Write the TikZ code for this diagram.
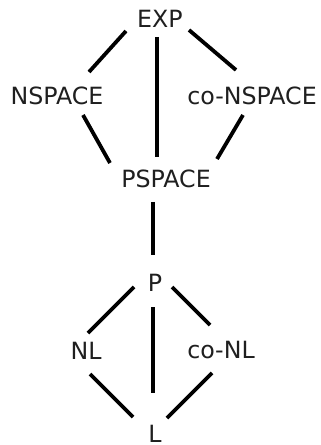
\documentclass[tikz,border=0pt]{standalone}
\usepackage{fontspec}
\setmainfont{DejaVu Sans}
\begin{document}
\begin{tikzpicture}[x=1bp,y=-1bp,
  cls/.style={inner sep=0pt,text height=17.5bp,text depth=0pt,text=black!88,
    font=\fontsize{23.8pt}{28pt}\selectfont},
  edge/.style={line width=3.8bp,black}]
\useasboundingbox (0,0) rectangle (320,445);
% complexity classes
\node[cls] (exp)    at (160,19)  {EXP};
\node[cls] (nspace) at (57,96)   {NSPACE};
\node[cls] (conspace) at (252,96) {co-NSPACE};
\node[cls] (pspace) at (166,179) {PSPACE};
\node[cls] (p)      at (155,283) {P};
\node[cls] (nl)     at (86,351)  {NL};
\node[cls] (conl)   at (221,350) {co-NL};
\node[cls] (l)      at (155,434) {L};
% inclusions
\draw[edge] ([shift={(-34,12)}]exp.center) -- ([shift={(32,-24)}]nspace.center);
\draw[edge] ([shift={(29,11)}]exp.center) -- ([shift={(-16,-26)}]conspace.center);
\draw[edge] ([shift={(-3,18)}]exp.center) -- ([shift={(-9,-22)}]pspace.center);
\draw[edge] ([shift={(26,19)}]nspace.center) -- ([shift={(-56,-16)}]pspace.center);
\draw[edge] ([shift={(-9,19)}]conspace.center) -- ([shift={(51,-20)}]pspace.center);
\draw[edge] ([shift={(-13,23)}]pspace.center) -- ([shift={(-2,-28)}]p.center);
\draw[edge] ([shift={(-21,4)}]p.center) -- ([shift={(2,-18)}]nl.center);
\draw[edge] ([shift={(17,4)}]p.center) -- ([shift={(-11,-25)}]conl.center);
\draw[edge] ([shift={(-2,24)}]p.center) -- ([shift={(-2,-41)}]l.center);
\draw[edge] ([shift={(4,23)}]nl.center) -- ([shift={(-22,-17)}]l.center);
\draw[edge] ([shift={(-9,23)}]conl.center) -- ([shift={(12,-16)}]l.center);
\end{tikzpicture}
\end{document}
